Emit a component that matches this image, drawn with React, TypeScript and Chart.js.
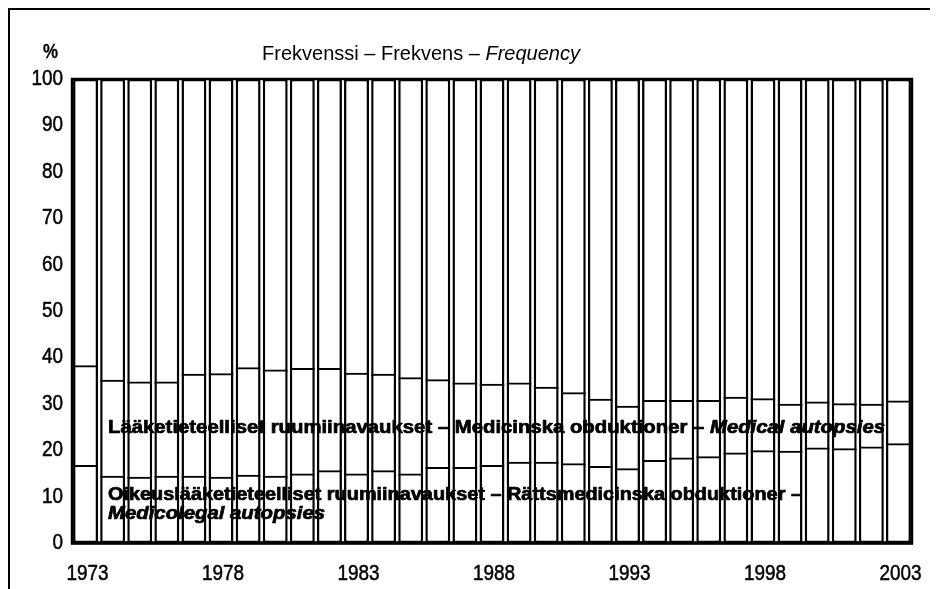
import { useEffect, useRef } from "react";
import { Chart, registerables } from "chart.js";

Chart.register(...registerables);

const years = [
  "1973", "1974", "1975", "1976", "1977", "1978", "1979", "1980", "1981", "1982",
  "1983", "1984", "1985", "1986", "1987", "1988", "1989", "1990", "1991", "1992",
  "1993", "1994", "1995", "1996", "1997", "1998", "1999", "2000", "2001", "2002", "2003",
];

// Oikeuslääketieteelliset ruumiinavaukset – Medicolegal autopsies (%)
const medicoLegal = [
  16.8, 14.5, 14.3, 14.5, 14.5, 14.3, 14.7, 14.5, 15.0, 15.7,
  15.0, 15.7, 15.0, 16.4, 16.4, 16.8, 17.5, 17.5, 17.2, 16.6,
  16.1, 17.9, 18.4, 18.7, 19.5, 20.0, 19.9, 20.6, 20.4, 20.8, 21.5,
];

// Lääketieteelliset ruumiinavaukset – Medical autopsies (%)
const medical = [
  21.5, 20.7, 20.5, 20.3, 22.0, 22.3, 23.2, 22.9, 22.7, 22.0,
  21.7, 20.8, 20.7, 18.9, 18.2, 17.5, 17.1, 16.2, 15.3, 14.5,
  13.5, 12.9, 12.4, 12.1, 12.0, 11.2, 10.1, 9.9, 9.7, 9.2, 9.2,
];

// whole bar = 100 %
const fullScale = years.map(() => 100);

const yMin = 0;
const yMax = 100;
const yStep = 10;
const labelEvery = 5;

const titleParts = [
  { text: "Frekvenssi – Frekvens – ", italic: false, bold: false },
  { text: "Frequency", italic: true, bold: false },
];
const medicalLabel = [
  { text: "Lääketieteelliset ruumiinavaukset – Medicinska obduktioner – ", italic: false, bold: true },
  { text: "Medical autopsies", italic: true, bold: true },
];
const medicoLegalLabel1 = [
  { text: "Oikeuslääketieteelliset ruumiinavaukset – Rättsmedicinska obduktioner –", italic: false, bold: true },
];
const medicoLegalLabel2 = [
  { text: "Medicolegal autopsies", italic: true, bold: true },
];

const SANS = "'Liberation Sans', Arial, sans-serif";

type Part = { text: string; italic: boolean; bold: boolean };

function drawFitted(
  ctx: CanvasRenderingContext2D,
  parts: Part[],
  x: number,
  y: number,
  width: number,
  size: number,
  family: string,
  stroke = 0
) {
  const fontFor = (p: Part) =>
    `${p.italic ? "italic " : ""}${p.bold ? "bold " : ""}${size}px ${family}`;
  let w = 0;
  parts.forEach((p) => {
    ctx.font = fontFor(p);
    w += ctx.measureText(p.text).width;
  });
  const sx = width / w;
  ctx.save();
  ctx.translate(x, y);
  ctx.scale(sx, 1);
  ctx.fillStyle = "#000";
  ctx.strokeStyle = "#000";
  ctx.lineWidth = stroke;
  ctx.lineJoin = "round";
  ctx.textBaseline = "alphabetic";
  ctx.textAlign = "left";
  let cx = 0;
  parts.forEach((p) => {
    ctx.font = fontFor(p);
    ctx.fillText(p.text, cx, 0);
    if (stroke > 0) ctx.strokeText(p.text, cx, 0);
    cx += ctx.measureText(p.text).width;
  });
  ctx.restore();
}

// condensed tick text: a normal face squeezed horizontally
function drawCondensed(
  ctx: CanvasRenderingContext2D,
  text: string,
  x: number,
  y: number,
  align: "right" | "center",
  size: number,
  squeeze: number,
  baseline: CanvasTextBaseline
) {
  ctx.save();
  ctx.font = `${size}px ${SANS}`;
  ctx.fillStyle = "#000";
  ctx.strokeStyle = "#000";
  ctx.lineWidth = 0.5;
  ctx.textBaseline = baseline;
  ctx.textAlign = align;
  ctx.translate(x, y);
  ctx.scale(squeeze, 1);
  ctx.fillText(text, 0, 0);
  ctx.strokeText(text, 0, 0);
  ctx.restore();
}

const decorPlugin = {
  id: "decor",
  afterDatasetsDraw(chart: any) {
    const ctx: CanvasRenderingContext2D = chart.ctx;
    const a = chart.chartArea;
    ctx.save();
    ctx.strokeStyle = "#000";
    ctx.lineWidth = 2.5;
    ctx.strokeRect(a.left, a.top, a.right - a.left, a.bottom - a.top);
    ctx.lineWidth = 3.5;
    ctx.beginPath();
    ctx.moveTo(a.left - 1, a.bottom);
    ctx.lineTo(a.right + 1, a.bottom);
    ctx.stroke();
    ctx.restore();

    // axis tick labels, positioned by the chart's scales
    const ys = chart.scales.y;
    ys.ticks.forEach((t: any) => {
      drawCondensed(ctx, String(t.value), a.left - 9, ys.getPixelForValue(t.value), "right", 22, 0.86, "middle");
    });
    const xs = chart.scales.x;
    years.forEach((yr, i) => {
      if (i % labelEvery !== 0) return;
      drawCondensed(ctx, yr, xs.getPixelForValue(i) + 2, a.bottom + 37, "center", 22, 0.86, "alphabetic");
    });

    // in-chart labels
    drawFitted(ctx, medicalLabel, 98, 423, 777, 18, SANS, 0.7);
    drawFitted(ctx, medicoLegalLabel1, 98, 490, 694, 18, SANS, 0.7);
    drawFitted(ctx, medicoLegalLabel2, 98, 509, 217, 18, SANS, 0.7);

    // title & unit
    drawFitted(ctx, titleParts, 252, 50, 318, 21, SANS);
    drawFitted(ctx, [{ text: "%", italic: false, bold: true }], 33, 48, 15, 20, SANS, 0.3);
  },
};

export default function App() {
  const ref = useRef<HTMLCanvasElement | null>(null);

  useEffect(() => {
    if (!ref.current) return;
    const segBorder = { top: 2, right: 0, bottom: 0, left: 0 };
    const chart = new Chart(ref.current, {
      type: "bar",
      data: {
        labels: years,
        datasets: [
          {
            label: "Oikeuslääketieteelliset ruumiinavaukset – Medicolegal autopsies",
            data: medicoLegal,
            stack: "main",
            backgroundColor: "rgba(0,0,0,0)",
            borderColor: "#000",
            borderWidth: segBorder,
            borderSkipped: false,
            order: 0,
          },
          {
            label: "Lääketieteelliset ruumiinavaukset – Medical autopsies",
            data: medical,
            stack: "main",
            backgroundColor: "rgba(0,0,0,0)",
            borderColor: "#000",
            borderWidth: segBorder,
            borderSkipped: false,
            order: 0,
          },
          {
            label: "100 %",
            data: fullScale,
            stack: "frame",
            backgroundColor: "#fff",
            borderColor: "#000",
            borderWidth: 2.5,
            borderSkipped: false,
            order: 2,
          },
        ] as any,
      },
      options: {
        responsive: false,
        animation: false,
        events: [],
        datasets: {
          bar: { barPercentage: 0.92, categoryPercentage: 1.0, grouped: false },
        },
        layout: { padding: { top: 69, right: 26, left: 0, bottom: 0 } },
        plugins: {
          legend: { display: false },
          tooltip: { enabled: false },
          title: { display: false },
        },
        scales: {
          x: {
            stacked: true,
            offset: true,
            grid: { display: false, drawTicks: false },
            border: { display: false },
            ticks: { display: false, autoSkip: false },
            afterFit: (s: any) => {
              s.height = 46;
            },
          },
          y: {
            stacked: true,
            min: yMin,
            max: yMax,
            grid: { display: false, drawTicks: false },
            border: { display: false },
            ticks: { display: false, stepSize: yStep },
            afterFit: (s: any) => {
              s.width = 62;
            },
          },
        },
      } as any,
      plugins: [decorPlugin],
    });
    return () => chart.destroy();
  }, []);

  return (
    <div
      style={{
        width: 930,
        height: 581,
        borderTop: "2px solid #000",
        borderLeft: "2px solid #000",
        boxSizing: "border-box",
        background: "#fff",
      }}
    >
      <canvas ref={ref} width={928} height={579} style={{ display: "block" }} />
    </div>
  );
}
